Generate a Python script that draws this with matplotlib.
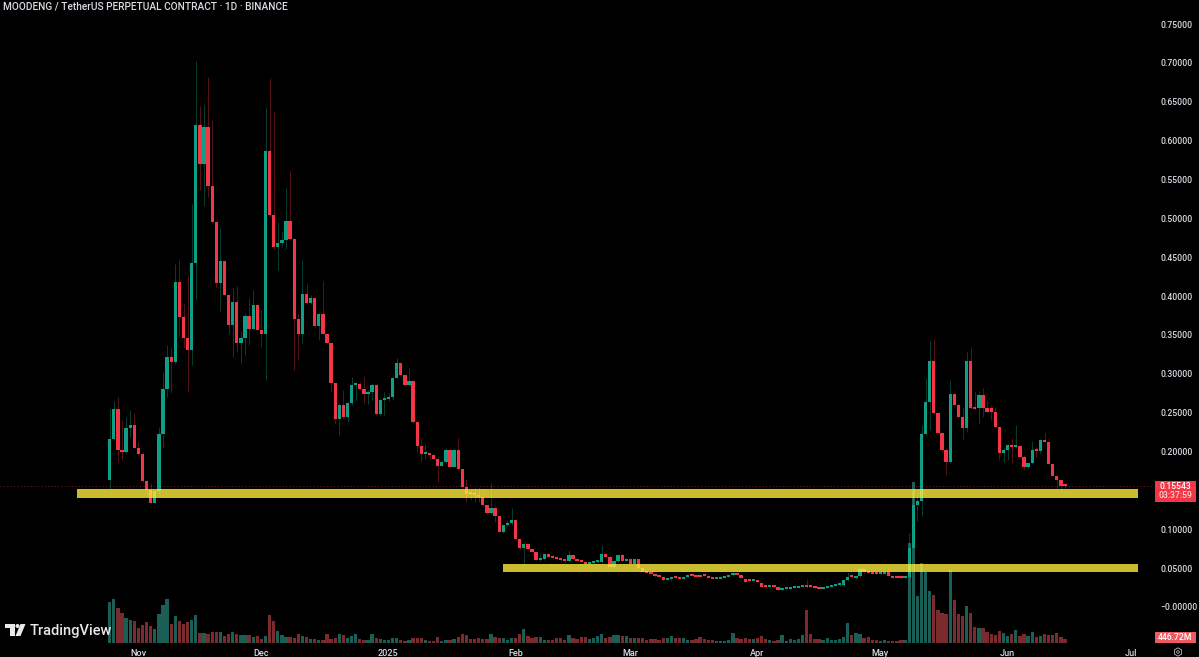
import numpy as np
import pandas as pd
import matplotlib
matplotlib.use("Agg")
import matplotlib.pyplot as plt
import matplotlib.dates as mdates
from matplotlib.patches import Rectangle, Polygon, Circle, RegularPolygon

plt.rcParams['font.family'] = ['Roboto', 'DejaVu Sans']

title = "MOODENG / TetherUS PERPETUAL CONTRACT · 1D · BINANCE"
start_date = "2024-10-25"

opens = [.163,.216,.2546,.2018,.1996,.230,.234,.205,.197,.162,.150,.134,.149,.2224,.280,.321,.3155,.4184,.3725,.3455,
 .330,.443,.6196,.570,.617,.5416,.4952,.4163,.4455,.402,.363,.392,.340,.346,.374,.358,.388,.356,.351,.587,
 .504,.4626,.468,.472,.4965,.474,.370,.351,.403,.3906,.397,.362,.3764,.3506,.340,.2876,.2417,.2598,.2447,.2619,
 .2855,.2868,.281,.274,.277,.2855,.248,.266,.267,.2705,.295,.3134,.2984,.286,.2906,.2375,.2074,.1963,.1967,.195,
 .191,.1817,.186,.2014,.1804,.2018,.177,.1546,.146,.1452,.1444,.1418,.131,.1203,.128,.1173,.0967,.1053,.1087,.1113,
 .0869,.0753,.0813,.0744,.0711,.0604,.0613,.0677,.0647,.0626,.0613,.0606,.0597,.0669,.0613,.0596,.0583,.0553,.0562,.0579,
 .058,.0677,.0647,.051,.059,.0664,.0596,.0613,.0553,.0613,.0497,.0454,.0441,.0424,.0395,.0385,.0347,.0355,.0377,.0368,
 .0364,.0390,.0407,.0403,.0407,.0403,.0398,.0381,.0360,.0364,.0377,.0390,.0407,.0441,.0411,.0360,.0334,.0330,.0330,.0304,
 .0261,.0253,.0257,.0261,.0218,.0227,.0231,.0240,.0244,.0253,.0270,.0270,.0261,.0240,.0235,.0248,.0261,.0270,.0278,.0278,
 .0347,.0390,.0368,.0398,.0484,.0446,.0441,.0428,.0424,.0428,.0454,.0398,.0380,.0377,.0373,.0381,.0755,.1311,.1367,.2220,
 .2632,.3164,.2491,.2242,.2019,.186,.2740,.2598,.2448,.2298,.3169,.2555,.2555,.2727,.2555,.2555,.2504,.2311,.1985,.2019,
 .2083,.2053,.2066,.1933,.1796,.1847,.2035,.2006,.2148,.2126,.1839,.1688,.1633,.1570]
highs = [.255,.265,.2696,.241,.2447,.253,.250,.212,.199,.163,.160,.152,.2318,.3026,.337,.335,.441,.447,.3897,.427,
 .519,.7024,.644,.647,.682,.6265,.497,.489,.4455,.403,.411,.413,.354,.378,.397,.408,.39,.382,.643,.681,
 .637,.4956,.483,.5386,.561,.475,.378,.446,.415,.401,.398,.378,.42,.352,.341,.288,.262,.279,.264,.296,
 .288,.290,.297,.279,.288,.287,.267,.277,.275,.296,.320,.314,.2996,.309,.291,.238,.2168,.210,.198,.197,
 .193,.189,.205,.202,.205,.2168,.178,.165,.150,.1546,.155,.151,.1314,.160,.1298,.118,.106,.1118,.1268,.1118,
 .088,.0815,.082,.0748,.0725,.069,.069,.0699,.0665,.064,.0625,.0615,.0733,.0686,.062,.060,.059,.057,.059,.059,
 .080,.069,.067,.06,.0675,.0677,.0625,.0625,.0625,.062,.050,.046,.0445,.043,.040,.039,.036,.038,.038,.038,
 .0395,.041,.041,.041,.0415,.041,.040,.0385,.037,.038,.0395,.041,.0445,.0455,.0415,.0365,.034,.034,.0335,.031,
 .0265,.026,.026,.0265,.023,.0235,.0245,.025,.026,.0275,.0360,.0275,.0265,.0245,.025,.0265,.0275,.028,.0295,.0355,
 .0446,.0395,.040,.0515,.049,.045,.0445,.043,.0435,.0465,.046,.040,.0385,.038,.0385,.0948,.1525,.145,.234,.294,
 .3426,.3443,.2512,.2255,.204,.292,.2748,.2620,.2577,.3276,.3349,.277,.2782,.2812,.2662,.2598,.2568,.2320,.204,.2095,
 .2178,.234,.2083,.1955,.185,.2139,.206,.2156,.2233,.213,.184,.169,.164,.158]
lows = [.151,.215,.1868,.189,.197,.219,.204,.195,.161,.144,.132,.133,.146,.206,.270,.2756,.313,.348,.335,.277,
 .311,.395,.536,.516,.528,.494,.412,.381,.401,.352,.322,.328,.313,.324,.337,.358,.355,.335,.292,.503,
 .461,.434,.463,.46,.472,.305,.318,.338,.39,.390,.36,.344,.35,.339,.278,.236,.221,.2417,.2383,.260,
 .266,.28,.262,.261,.266,.247,.247,.247,.265,.268,.294,.297,.285,.285,.237,.1997,.188,.191,.189,.190,
 .161,.181,.185,.180,.180,.176,.154,.135,.1375,.135,.135,.1298,.1195,.12,.1096,.0959,.0955,.1045,.1055,.0865,
 .0745,.0538,.0735,.0705,.0600,.0598,.060,.064,.062,.0605,.059,.057,.059,.061,.059,.0575,.0525,.053,.0545,.057,
 .057,.064,.050,.050,.058,.059,.059,.055,.055,.047,.0445,.0435,.042,.0385,.038,.034,.0345,.033,.0365,.036,
 .036,.0385,.040,.038,.0385,.0395,.0375,.0355,.0355,.036,.037,.0385,.040,.041,.036,.032,.0325,.0325,.032,.0255,
 .025,.025,.025,.0215,.021,.022,.0225,.0235,.024,.025,.025,.0255,.0235,.023,.023,.024,.0255,.0265,.027,.027,
 .034,.038,.036,.039,.044,.0435,.0425,.0415,.042,.042,.0395,.037,.037,.0365,.037,.037,.074,.111,.117,.221,
 .2276,.2485,.2235,.1997,.1697,.1855,.2585,.2427,.2148,.2255,.2542,.2534,.2353,.2448,.2500,.2405,.2298,.189,.1869,.189,
 .1856,.204,.1912,.1762,.1790,.1838,.1933,.1976,.2120,.1830,.1680,.1504,.1495,.153]
closes = [.216,.2546,.2018,.1996,.230,.234,.205,.197,.162,.150,.134,.149,.2224,.280,.321,.3155,.4184,.3725,.3455,.330,
 .443,.6196,.570,.617,.5416,.4952,.4163,.4455,.402,.363,.392,.340,.346,.374,.358,.388,.356,.351,.587,.504,
 .4626,.468,.472,.4965,.474,.370,.351,.403,.3906,.397,.362,.3764,.3506,.340,.2876,.2417,.2598,.2447,.2619,.2855,
 .2868,.281,.274,.277,.2855,.248,.266,.267,.2705,.295,.3134,.2984,.286,.2906,.2375,.2074,.1963,.1967,.195,.191,
 .1817,.186,.2014,.1804,.2018,.177,.1546,.146,.1452,.1444,.1418,.131,.1203,.128,.1173,.0967,.1053,.1087,.1113,.0869,
 .0753,.0813,.0744,.0711,.0604,.0613,.0677,.0647,.0626,.0613,.0606,.0597,.0669,.0613,.0596,.0583,.0553,.0562,.0579,.058,
 .0677,.0647,.051,.059,.0664,.0596,.0613,.0553,.0613,.0497,.0454,.0441,.0424,.0395,.0385,.0347,.0355,.0377,.0368,.0364,
 .0390,.0407,.0403,.0381,.0385,.0398,.0377,.0360,.0364,.0377,.0390,.0407,.0433,.0411,.0368,.0326,.0330,.0334,.0326,.0261,
 .0259,.0257,.0253,.0218,.0227,.0231,.0240,.0244,.0253,.0270,.0261,.0261,.0240,.0235,.0248,.0261,.0270,.0278,.0283,.0347,
 .0390,.0385,.0398,.0484,.0446,.0441,.0428,.0424,.0428,.0454,.0398,.0377,.0377,.0373,.0381,.0755,.1311,.1367,.2220,.2632,
 .3164,.2491,.2242,.2019,.186,.2740,.2598,.2439,.2298,.3169,.2555,.2545,.2727,.2555,.2510,.2504,.2311,.1985,.2019,.2083,
 .2053,.2066,.1925,.1796,.1847,.2019,.2010,.2148,.2126,.1839,.1688,.1633,.1560,.15543]
volumes_m = [4100,4400,3500,3000,2500,2300,2200,1500,1800,2100,1700,1400,2900,3800,4400,1900,2700,2200,1900,2100,
 2300,2800,1000,1000,900,1100,1100,1100,700,900,1100,900,800,800,800,600,700,400,700,2800,
 2200,1200,800,600,600,500,900,700,600,400,400,300,300,900,400,500,900,800,500,700,
 900,400,300,350,900,500,400,300,300,500,500,300,250,350,500,550,550,350,200,250,
 600,250,350,350,450,650,900,850,450,450,500,400,400,950,650,550,500,350,500,550,
 950,1400,700,550,600,600,300,300,350,500,500,300,800,500,400,600,600,400,500,700,
 900,500,600,800,800,700,700,500,550,500,500,300,400,400,300,500,550,700,500,500,
 500,300,300,400,600,400,300,300,250,250,250,300,1050,500,450,500,400,400,500,700,
 450,300,200,300,800,200,400,300,400,800,3300,900,400,450,300,500,300,300,400,600,
 2000,800,1000,900,500,600,300,300,250,300,250,200,250,300,300,10000,16100,4700,8000,7100,
 5200,4800,3300,3000,2900,7300,4300,2900,2700,3700,3000,1600,1500,1500,1100,900,800,1200,1000,700,
 900,1300,700,900,700,1100,600,700,900,800,800,1000,600,447]

price_ticks = [0.75,0.70,0.65,0.60,0.55,0.50,0.45,0.40,0.35,0.30,0.25,0.20,0.10,0.05,0.0]
price_labels = ["0.75000","0.70000","0.65000","0.60000","0.55000","0.50000","0.45000","0.40000",
                "0.35000","0.30000","0.25000","0.20000","0.10000","0.05000","\u22120.00000"]
month_dates = ["2024-11-01","2024-12-01","2025-01-01","2025-02-01","2025-03-01","2025-04-01","2025-05-01","2025-06-01","2025-07-01"]
month_labels = ["Nov","Dec","2025","Feb","Mar","Apr","May","Jun","Jul"]

support_upper = (0.1406, 0.1518, "2024-10-17", "2025-07-02")
support_lower = (0.0454, 0.0557, "2025-01-29", "2025-07-02")
last_price = 0.15543
last_volume_label = "446.72M"
countdown = "03:37:59"

assert len(opens) == len(highs) == len(lows) == len(closes) == len(volumes_m)

W, H = 1199, 657
UP, DOWN = "#0f9f86", "#f23645"
UP_VOL, DOWN_VOL = "#1b5e56", "#7b2a2e"
TEXT = "#d8dbe2"

fig = plt.figure(figsize=(W/100, H/100), dpi=100, facecolor="black")
pane_right, pane_bottom = 1153, 647
rect = [0, 1 - pane_bottom/H, pane_right/W, pane_bottom/H]
ax_vol = fig.add_axes(rect, facecolor="black", zorder=1)
ax = fig.add_axes(rect, facecolor="none", zorder=2)

dates = pd.date_range(start_date, periods=len(opens), freq="D")
x = mdates.date2num(dates)
o, h, l, c = map(np.array, (opens, highs, lows, closes))
up = c >= o

px_per_day = 4.1
x0 = x[0] - 109.7/px_per_day
x1 = x[0] + (pane_right - 109.7)/px_per_day
for a in (ax, ax_vol):
    a.set_xlim(x0, x1)
    a.xaxis_date()
    for s in a.spines.values():
        s.set_visible(False)

px_per_unit = 583/0.75
ax.set_ylim((607 - pane_bottom)/px_per_unit, 607/px_per_unit)
ax_vol.set_ylim(-400, 64300)

# volume
ax_vol.bar(x, volumes_m, width=0.8, color=[UP_VOL if u else DOWN_VOL for u in up], linewidth=0)
ax_vol.set_xticks([]); ax_vol.set_yticks([])

# wicks and bodies
ax.vlines(x[up], l[up], h[up], colors=UP, linewidth=0.72, alpha=0.38, zorder=3)
ax.vlines(x[~up], l[~up], h[~up], colors=DOWN, linewidth=0.72, alpha=0.35, zorder=3)
body_lo = np.minimum(o, c)
body_h = np.maximum(np.abs(c - o), 0.0026)
ax.bar(x, body_h, bottom=body_lo, width=0.8, color=[UP if u else DOWN for u in up], linewidth=0, zorder=4)

# last price line
ax.axhline(last_price, color=DOWN, lw=0.7, ls=(0, (1, 2.5)), alpha=0.5, zorder=2)

# supports
for lo, hi, d0, d1 in (support_upper, support_lower):
    n0, n1 = mdates.date2num(pd.Timestamp(d0)), mdates.date2num(pd.Timestamp(d1)) + 0.8
    ax.add_patch(Rectangle((n0, lo), n1 - n0, hi - lo, facecolor="#ffeb3b", edgecolor="none", alpha=0.8, zorder=5))

# axes ticks
ax.yaxis.tick_right()
ax.set_yticks(price_ticks)
ax.set_yticklabels(price_labels, fontweight="medium")
ax.tick_params(axis="y", length=0, pad=5.6, labelsize=6.2, labelcolor=TEXT)
ax.set_xticks(mdates.date2num(pd.to_datetime(month_dates)))
ax.set_xticklabels(month_labels, fontweight="medium")
ax.tick_params(axis="x", length=0, pad=1.8, labelsize=6.6, labelcolor=TEXT)

# overlay helpers in pixel space
ov = fig.add_axes([0, 0, 1, 1], facecolor="none", zorder=5)
ov.set_xlim(0, W); ov.set_ylim(H, 0); ov.axis("off")

ov.text(3, 7, title, color=TEXT, fontsize=7.3, va="center", ha="left", fontweight="medium")

ov.add_patch(Rectangle((1155, 481), 41, 21, facecolor="#f23645", edgecolor="none"))
ov.text(1175.5, 486.3, f"{last_price:.5f}", color="white", fontsize=6.2, ha="center", va="center", fontweight="medium")
ov.text(1175.5, 496, countdown, color="#ffd5d8", fontsize=6.2, ha="center", va="center", fontweight="medium")
ov.add_patch(Rectangle((1155, 632), 41, 11, facecolor="#ee5a62", edgecolor="none"))
ov.text(1175.5, 637.5, last_volume_label, color="white", fontsize=6.2, ha="center", va="center", fontweight="medium")

# settings icon
ov.add_patch(RegularPolygon((1178, 652), 6, radius=4.2, facecolor="none", edgecolor=TEXT, lw=0.5))
ov.add_patch(Circle((1178, 652), 1.3, facecolor="none", edgecolor=TEXT, lw=0.5))

# TradingView logo
logo = "#e8e8e8"
ov.add_patch(Polygon([(5, 624), (14.5, 624), (14.5, 636), (10, 636), (10, 628), (5, 628)], facecolor=logo, edgecolor="none"))
ov.add_patch(Circle((17.5, 626), 2, facecolor=logo, edgecolor="none"))
ov.add_patch(Polygon([(20.5, 624), (25.5, 624), (20.5, 636), (15.5, 636)], facecolor=logo, edgecolor="none"))
ov.text(29.5, 630.5, "TradingView", color=logo, fontsize=10.5, va="center", ha="left", fontweight="medium")

fig.savefig("out.png", dpi=100, facecolor="black")
